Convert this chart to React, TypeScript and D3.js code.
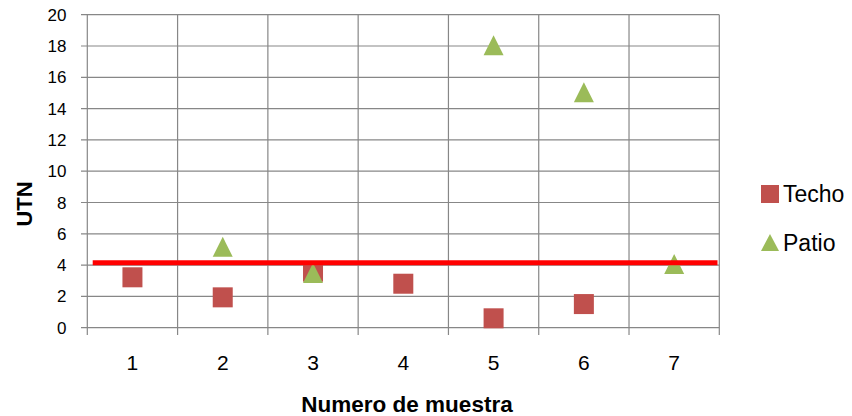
import React from "react";
import * as d3 from "d3";

const categories = [1, 2, 3, 4, 5, 6, 7];
const techo: (number | null)[] = [3.22, 1.94, 3.58, 2.81, 0.6, 1.51, null];
const patio: (number | null)[] = [null, 5.17, 3.5, null, 18.05, 15.04, 4.07];
const limitValue = 4.15;
const limitSpan = [0.56, 7.48];
const yTicks = [0, 2, 4, 6, 8, 10, 12, 14, 16, 18, 20];
const xTitle = "Numero de muestra";
const yTitle = "UTN";
const seriesNames = ["Techo", "Patio"];

const RED = "#C0504D";
const GREEN = "#9BBB59";
const GRID = "#878787";
const FONT = "'Liberation Sans', Arial, sans-serif";

export default function App() {
  const left = 87.3, right = 719.3, top = 14.7, bottom = 327.7;
  const x = d3.scaleLinear().domain([0.5, 7.5]).range([left, right]);
  const y = d3.scaleLinear().domain([0, 20]).range([bottom, top]);
  const bounds = d3.range(0.5, 7.6, 1);
  const tri = d3.symbol().type(d3.symbolTriangle);
  const triPath = (cx: number, cy: number, s = 20) =>
    `M${cx},${cy - s / 2}L${cx + s / 2},${cy + s / 2}L${cx - s / 2},${cy + s / 2}Z`;
  void tri;
  const line = d3
    .line<number>()
    .x((d) => x(d))
    .y(() => y(limitValue));

  return (
    <svg
      width={852}
      height={416}
      style={{ position: "absolute", left: 0, top: 0, background: "#fff" }}
      fontFamily={FONT}
    >
      <rect width={852} height={416} fill="#fff" />
      {/* horizontal gridlines + y ticks */}
      {yTicks.map((t) => (
        <g key={"y" + t}>
          <line x1={81} x2={right} y1={y(t)} y2={y(t)} stroke={GRID} strokeWidth={1.2} />
          <text x={66.5} y={y(t) + 6} textAnchor="end" fontSize={17} fill="#000">
            {t}
          </text>
        </g>
      ))}
      {/* vertical gridlines + x ticks */}
      {bounds.map((b) => (
        <line key={"x" + b} x1={x(b)} x2={x(b)} y1={top} y2={335} stroke={GRID} strokeWidth={1.2} />
      ))}
      {categories.map((c) => (
        <text key={"xl" + c} x={x(c)} y={370} textAnchor="middle" fontSize={21} fill="#000">
          {c}
        </text>
      ))}
      {/* Techo squares */}
      {techo.map((v, i) =>
        v == null ? null : (
          <rect
            key={"t" + i}
            x={x(categories[i]) - 10}
            y={y(v) - 10}
            width={20}
            height={20}
            fill={RED}
          />
        )
      )}
      {/* Patio triangles */}
      {patio.map((v, i) =>
        v == null ? null : <path key={"p" + i} d={triPath(x(categories[i]), y(v))} fill={GREEN} />
      )}
      {/* limit line */}
      <path d={line(limitSpan) || ""} stroke="#FF0000" strokeWidth={5} fill="none" />
      {/* axis titles */}
      <text
        transform={`translate(31.5, 204) rotate(-90)`}
        textAnchor="middle"
        fontSize={22}
        fontWeight="bold"
        fill="#000"
      >
        {yTitle}
      </text>
      <text x={407} y={411.5} textAnchor="middle" fontSize={22.5} fontWeight="bold" fill="#000">
        {xTitle}
      </text>
      {/* legend */}
      <rect x={761} y={185} width={18} height={18} fill={RED} />
      <text x={783} y={202} fontSize={23} fill="#000">
        {seriesNames[0]}
      </text>
      <path d={`M770,234L779,251L761,251Z`} fill={GREEN} />
      <text x={783} y={251} fontSize={23} fill="#000">
        {seriesNames[1]}
      </text>
    </svg>
  );
}
